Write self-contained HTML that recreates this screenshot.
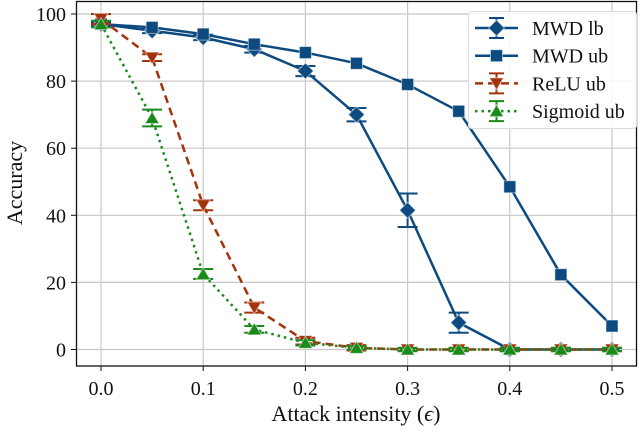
<!DOCTYPE html>
<html><head><meta charset="utf-8"><style>
html,body{margin:0;padding:0;background:#fff}
svg text{font-family:"Liberation Serif",serif;fill:#111}
</style></head><body>
<svg width="640" height="431" viewBox="0 0 640 431">
<g id="grid"></g>
<g id="series"></g>
<rect x="76.5" y="1.5" width="560" height="364.5" fill="none" stroke="#111" stroke-width="1.3"/>
<g id="ticks"></g>
<text x="356" y="421" font-size="22" text-anchor="middle">Attack intensity (<tspan font-style="italic">ϵ</tspan>)</text>
<text transform="translate(22,183) rotate(-90)" font-size="22" text-anchor="middle">Accuracy</text>
<g id="legend"></g>
</svg>
<script>
const xValues=[0,0.05,0.1,0.15,0.2,0.25,0.3,0.35,0.4,0.45,0.5];
const mwdLb=[97,95,93,89.5,83,70,41.5,8,0,0,0];
const mwdLbErr=[0.5,0.7,0.8,1,1.5,2,5,3,0.5,0.5,0.5];
const mwdUb=[97,96,94,91,88.5,85.3,79,71,48.5,22.3,7];
const mwdUbErr=[0,0,0,0,0,0,0,0,0,0,0];
const reluUb=[98.5,87,43,12.5,2.5,0.5,0,0,0,0,0];
const reluUbErr=[1.5,1,1.5,1.5,1,0.8,0.5,0.5,0.5,0.5,0.5];
const sigUb=[97,69,22.5,6,2,0.5,0,0,0,0,0];
const sigUbErr=[1,2.5,1.5,1,0.8,0.5,0.5,0.5,0.5,0.5,0.5];
const xTicks=[0,0.1,0.2,0.3,0.4,0.5];
const xTickLabels=["0.0","0.1","0.2","0.3","0.4","0.5"];
const yTicks=[0,20,40,60,80,100];
const legendLabels=["MWD lb","MWD ub","ReLU ub","Sigmoid ub"];

const NS="http://www.w3.org/2000/svg";
const sx=v=>101+v*(612-101)/0.5;
const sy=v=>349.5-v*(349.5-14)/100;
function mk(tag,attrs,parent){const e=document.createElementNS(NS,tag);for(const k in attrs)e.setAttribute(k,attrs[k]);parent.appendChild(e);return e;}
const grid=document.getElementById('grid'),ticks=document.getElementById('ticks'),ser=document.getElementById('series'),leg=document.getElementById('legend');
xTicks.forEach((t,i)=>{
  const l=mk('line',{x1:sx(t),x2:sx(t),y1:1.5,y2:366,stroke:'#c8c8c8','stroke-width':1.2},grid);
  
  const tk=mk('line',{x1:sx(t),x2:sx(t),y1:366,y2:371,stroke:'#111'},ticks);
  
  const tx=mk('text',{x:sx(t),y:395,'font-size':20,'text-anchor':'middle'},ticks);tx.textContent=xTickLabels[i];
  
});
yTicks.forEach(t=>{
  const l=mk('line',{x1:76.5,x2:636.5,y1:sy(t),y2:sy(t),stroke:'#c8c8c8','stroke-width':1.2},grid);
  
  const tk=mk('line',{x1:71,x2:76.5,y1:sy(t),y2:sy(t),stroke:'#111'},ticks);
  
  const tx=mk('text',{x:66,y:sy(t)+7,'font-size':20,'text-anchor':'end'},ticks);tx.textContent=t;
  
});
function marker(type,x,y,color,parent){
  let e;
  if(type==='diamond')e=mk('polygon',{points:`${x},${y-8} ${x+8},${y} ${x},${y+8} ${x-8},${y}`},parent);
  else if(type==='square')e=mk('rect',{x:x-6,y:y-6,width:12,height:12},parent);
  else if(type==='down')e=mk('polygon',{points:`${x-7},${y-5.5} ${x+7},${y-5.5} ${x},${y+6.5}`},parent);
  else e=mk('polygon',{points:`${x-7},${y+5.5} ${x+7},${y+5.5} ${x},${y-6.5}`},parent);
  e.setAttribute('fill',color);e.setAttribute('stroke','#fff');e.setAttribute('stroke-opacity','0.5');e.setAttribute('stroke-width','1');
  return e;
}
const seriesDefs=[
 {name:'mwd-lb',vals:mwdLb,err:mwdLbErr,color:'#0d4a7f',dash:'',m:'diamond'},
 {name:'mwd-ub',vals:mwdUb,err:mwdUbErr,color:'#0d4a7f',dash:'',m:'square'},
 {name:'relu-ub',vals:reluUb,err:reluUbErr,color:'#a2330c',dash:'8,5',m:'down'},
 {name:'sigmoid-ub',vals:sigUb,err:sigUbErr,color:'#1b8a1b',dash:'2.5,4',m:'up'}
];
seriesDefs.forEach(s=>{
  const g=mk('g',{},ser);
  
  const p=mk('polyline',{points:s.vals.map((v,i)=>sx(xValues[i])+','+sy(v)).join(' '),fill:'none',stroke:s.color,'stroke-width':2.5,'stroke-dasharray':s.dash},g);
  
  s.vals.forEach((v,i)=>{
    const x=sx(xValues[i]);
    if(s.err[i]>0){
      const y1=sy(v+s.err[i]),y2=sy(v-s.err[i]);
      const eb=mk('path',{d:`M${x},${y1}V${y2}M${x-10},${y1}H${x+10}M${x-10},${y2}H${x+10}`,stroke:s.color,'stroke-width':2,fill:'none'},g);
      
    }
    const m=marker(s.m,x,sy(v),s.color,g);
    
  });
});
const lb=mk('rect',{x:468.5,y:11.5,width:168,height:117,rx:3,fill:'#fff','fill-opacity':0.85,stroke:'#ddd'},leg);

seriesDefs.forEach((s,i)=>{
  const y=28+i*27.7;
  const g=mk('g',{},leg);
  
  mk('line',{x1:475,x2:518,y1:y,y2:y,stroke:s.color,'stroke-width':2.5,'stroke-dasharray':s.dash},g);
  mk('path',{d:`M496.5,${y-10}V${y+10}M489,${y-10}H504M489,${y+10}H504`,stroke:s.color,'stroke-width':2,fill:'none','stroke-opacity':s.m==='square'?0:1},g);
  marker(s.m,496.5,y,s.color,g);
  const t=mk('text',{x:532,y:y+7,'font-size':20},g);t.textContent=legendLabels[i];
});
</script>
</body></html>
